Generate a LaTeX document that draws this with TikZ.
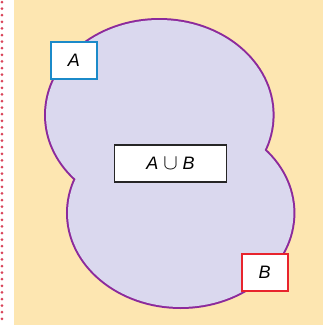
\documentclass[tikz,border=0pt]{standalone}
\usepackage{fontspec}
\setmainfont{Liberation Sans}
\usepackage{tikz}
\definecolor{paper}{HTML}{FDE6B1}
\definecolor{lavender}{HTML}{DAD8EE}
\definecolor{setline}{HTML}{8C2A9C}
\definecolor{boxA}{HTML}{1B8AC9}
\definecolor{boxB}{HTML}{E8242D}
\definecolor{margin}{HTML}{D9445A}
\tikzset{
  setbox/.style={draw,fill=white,line width=2pt,minimum height=37pt,
    inner sep=0pt,font=\fontsize{18}{21}\selectfont\itshape}
}

\begin{document}
\begin{tikzpicture}[x=1pt,y=-1pt]
			\useasboundingbox (0,0) rectangle (323,325);
			\fill[paper] (14,0) rectangle (323,325);
			\draw[margin,line width=3pt,line cap=round,dash pattern=on 0pt off 6.6pt] (2,2) -- (2,325);
			% the two sets, outline only on the outside
			\draw[setline,line width=4pt] (159.3,115) ellipse [x radius=113.3pt,y radius=95pt];
			\draw[setline,line width=4pt] (180.7,213) ellipse [x radius=112.7pt,y radius=94pt];
			\fill[lavender] (159.3,115) ellipse [x radius=113.3pt,y radius=95pt];
			\fill[lavender] (180.7,213) ellipse [x radius=112.7pt,y radius=94pt];
			\node[setbox,draw=boxA,minimum width=46pt] (a) at (74,60.5) {A};
			\node[setbox,draw=boxB,minimum width=46pt] (b) at (264.7,272.2) {B};
			\node[setbox,draw=black!85,line width=1.8pt,minimum width=112pt] (aub) at (170.5,163.8) {A \scalebox{1.25}{$\cup$} B};
		\end{tikzpicture}
\end{document}
